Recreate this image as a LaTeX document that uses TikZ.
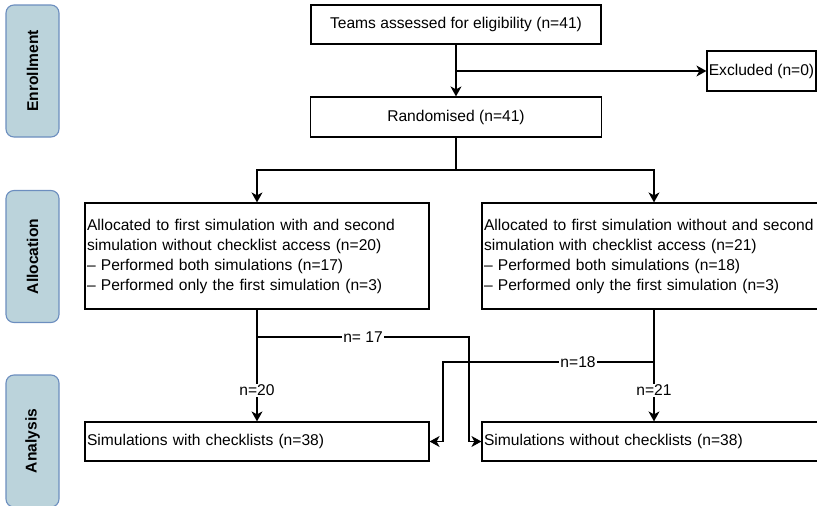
\documentclass[tikz,border=0pt]{standalone}
\usepackage{fontspec}
\setmainfont{Liberation Sans}
\usepackage{tikz}
\usetikzlibrary{arrows.meta, positioning}

\definecolor{phasefill}{RGB}{187,211,219}
\definecolor{phaseline}{RGB}{108,142,191}

\begin{document}
\begin{tikzpicture}[
    x=1pt, y=-1pt,
    every node/.style={font=\fontsize{15.6pt}{20pt}\selectfont},
    phase/.style={rectangle, rounded corners=8pt, draw=phaseline, fill=phasefill, line width=1.1pt,
        rotate=90, minimum width=132pt, minimum height=53pt, inner sep=0pt, font=\fontsize{15.6pt}{20pt}\selectfont\bfseries},
    box/.style={rectangle, draw, line width=1.2pt, inner sep=0pt, minimum height=40pt},
    textbox/.style={box, align=left, text width=340pt, inner sep=2pt},
    lbl/.style={fill=white, inner sep=1pt},
    arrow/.style={line width=1.2pt, -{Stealth[length=10pt, width=11pt, inset=3pt]}},
    line/.style={line width=1.2pt}
]
\useasboundingbox (0,0) rectangle (817,506);
\clip (0,0) rectangle (817,506);

% Phases
\node[phase] (enrol) at (32.5,71) {Enrollment};
\node[phase] (alloc) at (32.5,256.5) {Allocation};
\node[phase] (anal) at (32.5,441) {Analysis};

% Nodes
\node[box, minimum width=290pt, minimum height=39pt] (teams) at (456,24.5) {Teams assessed for eligibility (n=41)};
\node[box, minimum width=109pt] (excl) at (761.5,71) {Excluded (n=0)};
\node[box, minimum width=291pt] (rand) at (456,117) {Randomised (n=41)};
\node[textbox, minimum height=106pt] (allocL) at (257,256) {Allocated to first simulation with and second\\simulation without checklist access (n=20)\\-- Performed both simulations (n=17)\\-- Performed only the first simulation (n=3)};
\node[textbox, minimum height=106pt] (allocR) at (654,256) {Allocated to first simulation without and second\\simulation with checklist access (n=21)\\-- Performed both simulations (n=18)\\-- Performed only the first simulation (n=3)};
\node[textbox, minimum height=39pt] (anaL) at (257,441.5) {Simulations with checklists (n=38)};
\node[textbox, minimum height=39pt] (anaR) at (654,441.5) {Simulations without checklists (n=38)};

% Turning points
\coordinate (split) at (456,170);
\coordinate (turn17) at (469,337);
\coordinate (turn18) at (443,362);

% Arrows
\draw[arrow] (teams.south -| rand.north) -- (rand.north);
\draw[arrow] (rand.north |- excl.west) -- (excl.west);
\draw[line] (rand.south) -- (split);
\draw[arrow] (split) -| (allocL.north);
\draw[arrow] (split) -| (allocR.north);
\draw[arrow] (allocL.south) -- node[lbl, pos=0.72] {n=20} (anaL.north);
\draw[arrow] (allocR.south) -- node[lbl, pos=0.72] {n=21} (anaR.north);
\draw[arrow] (allocL.south |- turn17) -- node[lbl] {n= 17} (turn17) |- (anaR.west);
\draw[arrow] (allocR.south |- turn18) -- node[lbl, pos=0.36] {n=18} (turn18) |- (anaL.east);

\end{tikzpicture}
\end{document}
